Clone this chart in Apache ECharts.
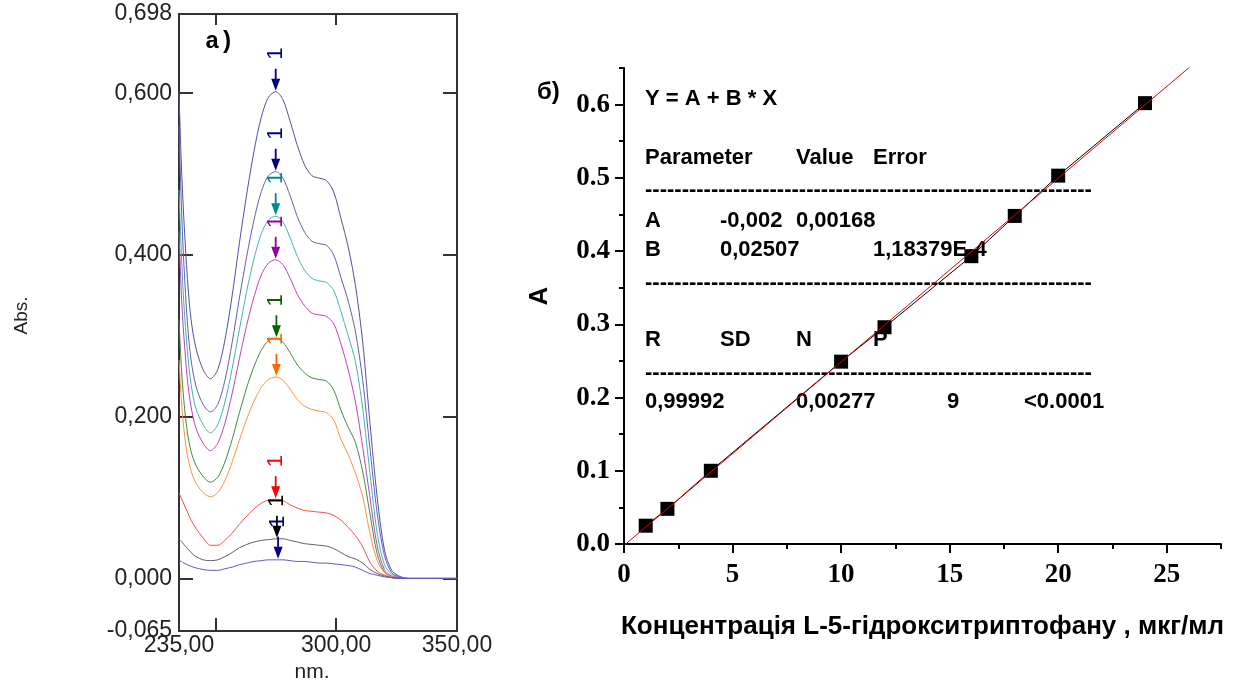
<!DOCTYPE html>
<html><head><meta charset="utf-8">
<script src="https://cdn.jsdelivr.net/npm/echarts@6/dist/echarts.min.js"></script>
<style>html,body{margin:0;padding:0;background:#fff}#c{width:1245px;height:682px}</style>
</head><body><div id="c"></div>
<script>
// ---------- Panel a): UV spectra ----------
const wavelengths = [235, 236, 237, 238.5, 240, 242, 245, 248, 251, 254, 257, 260, 263, 266, 269, 272, 275, 278, 281, 284, 287, 290, 293, 296, 299, 302, 305, 308, 311, 314, 317, 320, 323, 326, 330, 340, 350];
const absC24 = [0.600, 0.510, 0.445, 0.370, 0.320, 0.285, 0.258, 0.247, 0.258, 0.295, 0.350, 0.415, 0.475, 0.528, 0.570, 0.595, 0.602, 0.592, 0.565, 0.535, 0.511, 0.498, 0.495, 0.492, 0.478, 0.445, 0.410, 0.362, 0.292, 0.192, 0.100, 0.035, 0.010, 0.003, 0.000, 0.000, 0.000];
const absC20 = [0.560, 0.460, 0.390, 0.315, 0.270, 0.238, 0.215, 0.206, 0.215, 0.245, 0.292, 0.347, 0.398, 0.443, 0.478, 0.498, 0.503, 0.495, 0.473, 0.447, 0.428, 0.417, 0.414, 0.412, 0.400, 0.372, 0.343, 0.305, 0.245, 0.160, 0.080, 0.028, 0.007, 0.002, 0.000, 0.000, 0.000];
const absC18 = [0.480, 0.400, 0.340, 0.280, 0.240, 0.210, 0.190, 0.180, 0.190, 0.218, 0.260, 0.308, 0.355, 0.395, 0.426, 0.443, 0.448, 0.441, 0.421, 0.398, 0.381, 0.371, 0.368, 0.366, 0.356, 0.330, 0.300, 0.268, 0.210, 0.130, 0.056, 0.017, 0.005, 0.001, 0.000, 0.000, 0.000];
const absC16 = [0.430, 0.350, 0.300, 0.245, 0.212, 0.186, 0.167, 0.158, 0.167, 0.192, 0.229, 0.272, 0.313, 0.348, 0.375, 0.390, 0.394, 0.388, 0.371, 0.351, 0.337, 0.328, 0.326, 0.324, 0.315, 0.290, 0.258, 0.218, 0.162, 0.100, 0.040, 0.011, 0.003, 0.001, 0.000, 0.000, 0.000];
const absC12 = [0.320, 0.260, 0.220, 0.180, 0.157, 0.140, 0.126, 0.119, 0.125, 0.144, 0.172, 0.205, 0.236, 0.262, 0.282, 0.294, 0.297, 0.292, 0.279, 0.264, 0.254, 0.248, 0.246, 0.244, 0.233, 0.208, 0.187, 0.168, 0.132, 0.080, 0.030, 0.008, 0.002, 0.000, 0.000, 0.000, 0.000];
const absC10 = [0.270, 0.220, 0.185, 0.152, 0.133, 0.118, 0.106, 0.101, 0.106, 0.121, 0.144, 0.171, 0.197, 0.219, 0.236, 0.246, 0.249, 0.245, 0.234, 0.221, 0.213, 0.209, 0.207, 0.205, 0.196, 0.172, 0.153, 0.130, 0.101, 0.056, 0.022, 0.007, 0.002, 0.000, 0.000, 0.000, 0.000];
const absC4  = [0.106, 0.099, 0.092, 0.082, 0.072, 0.062, 0.050, 0.041, 0.041, 0.047, 0.056, 0.067, 0.077, 0.086, 0.093, 0.097, 0.098, 0.096, 0.091, 0.087, 0.084, 0.083, 0.082, 0.081, 0.078, 0.072, 0.063, 0.053, 0.039, 0.020, 0.009, 0.004, 0.001, 0.000, 0.000, 0.000, 0.000];
const absC2  = [0.049, 0.046, 0.042, 0.037, 0.032, 0.027, 0.023, 0.022, 0.023, 0.027, 0.032, 0.038, 0.042, 0.045, 0.047, 0.048, 0.049, 0.049, 0.047, 0.045, 0.043, 0.042, 0.041, 0.040, 0.037, 0.032, 0.027, 0.024, 0.019, 0.011, 0.006, 0.003, 0.001, 0.000, 0.000, 0.000, 0.000];
const absC1  = [0.022, 0.021, 0.019, 0.017, 0.015, 0.013, 0.011, 0.010, 0.010, 0.012, 0.014, 0.017, 0.019, 0.021, 0.022, 0.023, 0.023, 0.023, 0.022, 0.021, 0.021, 0.020, 0.019, 0.019, 0.018, 0.017, 0.016, 0.014, 0.010, 0.006, 0.004, 0.002, 0.001, 0.000, 0.000, 0.000, 0.000];
const peakWavelength = 275;
const peakMarkLabel = '1';

const spectraXLabelValues = [235, 300, 350];
const spectraXTickValues = [250, 300];
const spectraYLabelValues = [-0.065, 0, 0.2, 0.4, 0.6, 0.698];
const spectraYTickValues = [0, 0.2, 0.4, 0.6];

// ---------- Panel б): calibration ----------
const concentrations = [1, 2, 4, 10, 12, 16, 18, 20, 24];
const absorbances = [0.025, 0.048, 0.100, 0.249, 0.296, 0.393, 0.448, 0.503, 0.602];
const fitA = -0.002;
const fitB = 0.02507;
const fitXRange = [0, 26.1];
const calibXLabelValues = [0, 5, 10, 15, 20, 25];
const calibXMinorValues = [2.5, 7.5, 12.5, 17.5, 22.5, 27.5];
const calibYLabelValues = [0, 0.1, 0.2, 0.3, 0.4, 0.5, 0.6];
const calibYMinorValues = [0.05, 0.15, 0.25, 0.35, 0.45, 0.55, 0.65];

const tableHeader = ['Y = A + B * X'];
const tableRow1 = ['Parameter', 'Value', 'Error'];
const tableRowA = ['A', '-0,002', '0,00168'];
const tableRowB = ['B', '0,02507', '', '1,18379E-4'];
const tableRow2 = ['R', 'SD', 'N', 'P'];
const tableRow3 = ['0,99992', '', '0,00277', '', '9', '<0.0001'];
const dashRule = '-'.repeat(61);

// ---------- build ----------
const spectraList = [
  {data: absC24, line: '#5050a8', mark: '#000080', x: 275},
  {data: absC20, line: '#6060b4', mark: '#000080', x: 275},
  {data: absC18, line: '#40b4b4', mark: '#008b8b', x: 275},
  {data: absC16, line: '#c040c0', mark: '#9a009a', x: 275},
  {data: absC12, line: '#3c8c3c', mark: '#006400', x: 275.3},
  {data: absC10, line: '#ff9040', mark: '#ff6a00', x: 275.3},
  {data: absC4,  line: '#ff4a4a', mark: '#ff0000', x: 275},
  {data: absC2,  line: '#606060', mark: '#000000', x: 275.5},
  {data: absC1,  line: '#5a5ac8', mark: '#000080', x: 276}
];
const arrowPath = 'path://M4,0L6,0L6,10L10,10L5,22L0,10L4,10Z';
const pIdx = wavelengths.indexOf(peakWavelength);

const spectraSeries = spectraList.map(s => ({
  type: 'line', xAxisIndex: 0, yAxisIndex: 0,
  data: wavelengths.map((w, i) => [w, s.data[i]]),
  smooth: 0.3, showSymbol: false, symbol: 'none', clip: true,
  lineStyle: {color: s.line, width: 1}, itemStyle: {color: s.line},
  markPoint: {
    silent: true, animation: false,
    data: [
      {coord: [s.x, s.data[pIdx]], symbol: arrowPath, symbolSize: [9, 22], symbolOffset: [0, -12],
       itemStyle: {color: s.mark}, label: {show: false}},
      {coord: [s.x, s.data[pIdx]], symbol: 'circle', symbolSize: 1, itemStyle: {color: 'rgba(0,0,0,0)'},
       label: {show: true, position: 'inside', formatter: peakMarkLabel, rotate: 90, offset: [38, 0],
               color: s.mark, fontSize: 22, fontFamily: '"Liberation Sans", Arial, sans-serif'}}
    ]
  }
}));

const fmtComma3 = v => v.toFixed(3).replace('.', ',');
const fmtComma2 = v => v.toFixed(2).replace('.', ',');
const leftFont = '"Liberation Sans", Arial, sans-serif';
const serifFont = '"Liberation Serif", "Times New Roman", serif';
const boxLine = {show: true, onZero: false, lineStyle: {color: '#333', width: 2}};

const option = {
  animation: false,
  backgroundColor: '#fff',
  grid: [
    {left: 179, top: 14, width: 278, height: 617, containLabel: false, outerBoundsMode: 'none'},
    {left: 624, top: 68, width: 597, height: 476, containLabel: false, outerBoundsMode: 'none'}
  ],
  xAxis: [
    {gridIndex: 0, type: 'value', min: 235, max: 350, position: 'bottom',
     axisLine: boxLine,
     axisTick: {show: true, inside: true, length: 13, customValues: spectraXTickValues, lineStyle: {color: '#333', width: 2}},
     axisLabel: {customValues: spectraXLabelValues, formatter: fmtComma2, fontSize: 23, color: '#222', fontFamily: leftFont, margin: 3},
     splitLine: {show: false},
     name: 'nm.', nameLocation: 'middle', nameGap: 31,
     nameTextStyle: {fontSize: 21, color: '#222', fontFamily: leftFont, padding: [0, 12, 0, 0]}},
    {gridIndex: 0, type: 'value', min: 235, max: 350, position: 'top',
     axisLine: boxLine,
     axisTick: {show: true, inside: true, length: 11, customValues: spectraXTickValues, lineStyle: {color: '#333', width: 2}},
     axisLabel: {show: false}, splitLine: {show: false}},
    {gridIndex: 1, type: 'value', min: 0, max: 27.5, position: 'bottom',
     axisLine: {show: true, onZero: false, lineStyle: {color: '#000', width: 2}},
     axisTick: {show: true, length: 9, customValues: calibXLabelValues, lineStyle: {color: '#000', width: 2}},
     axisLabel: {customValues: calibXLabelValues, fontSize: 27, fontWeight: 'bold', fontFamily: serifFont, color: '#000', margin: 18},
     splitLine: {show: false},
     name: 'Концентрація L-5-гідрокситриптофану , мкг/мл', nameLocation: 'middle', nameGap: 70,
     nameTextStyle: {fontSize: 26, fontWeight: 'bold', fontFamily: leftFont, color: '#000'}},
    {gridIndex: 1, type: 'value', min: 0, max: 27.5, position: 'bottom',
     axisLine: {show: false, onZero: false},
     axisTick: {show: true, length: 5, customValues: calibXMinorValues, lineStyle: {color: '#000', width: 2}},
     axisLabel: {show: false}, splitLine: {show: false}}
  ],
  yAxis: [
    {gridIndex: 0, type: 'value', min: -0.065, max: 0.698, position: 'left',
     axisLine: boxLine,
     axisTick: {show: true, inside: true, length: 14, customValues: spectraYTickValues, lineStyle: {color: '#333', width: 2}},
     axisLabel: {customValues: spectraYLabelValues, formatter: fmtComma3, fontSize: 23, color: '#222', fontFamily: leftFont, margin: 7},
     splitLine: {show: false},
     name: 'Abs.', nameLocation: 'middle', nameGap: 148, nameRotate: 90,
     nameTextStyle: {fontSize: 19, color: '#222', fontFamily: leftFont, padding: [0, 0, 0, 14]}},
    {gridIndex: 0, type: 'value', min: -0.065, max: 0.698, position: 'right',
     axisLine: boxLine,
     axisTick: {show: true, inside: true, length: 14, customValues: spectraYTickValues, lineStyle: {color: '#333', width: 2}},
     axisLabel: {show: false}, splitLine: {show: false}},
    {gridIndex: 1, type: 'value', min: 0, max: 0.65, position: 'left',
     axisLine: {show: true, onZero: false, lineStyle: {color: '#000', width: 2}},
     axisTick: {show: true, length: 9, customValues: calibYLabelValues, lineStyle: {color: '#000', width: 2}},
     axisLabel: {customValues: calibYLabelValues, formatter: v => v.toFixed(1), fontSize: 27, fontWeight: 'bold', fontFamily: serifFont, color: '#000', margin: 14},
     splitLine: {show: false},
     name: 'A', nameLocation: 'middle', nameGap: 71, nameRotate: 90,
     nameTextStyle: {fontSize: 26, fontWeight: 'bold', fontFamily: leftFont, color: '#000', padding: [0, 0, 0, 20]}},
    {gridIndex: 1, type: 'value', min: 0, max: 0.65, position: 'left',
     axisLine: {show: false, onZero: false},
     axisTick: {show: true, length: 5, customValues: calibYMinorValues, lineStyle: {color: '#000', width: 2}},
     axisLabel: {show: false}, splitLine: {show: false}}
  ],
  series: spectraSeries.concat([
    {type: 'line', xAxisIndex: 2, yAxisIndex: 2, z: 3,
     data: concentrations.map((c, i) => [c, absorbances[i]]),
     symbol: 'rect', symbolSize: 14, showSymbol: true,
     lineStyle: {color: '#000', width: 1}, itemStyle: {color: '#000'}},
    {type: 'line', xAxisIndex: 2, yAxisIndex: 2, z: 4, clip: true,
     data: fitXRange.map(x => [x, fitA + fitB * x]),
     symbol: 'none', lineStyle: {color: '#e00000', width: 1}}
  ]),
  graphic: []
};

const tf = 'bold 22px "Liberation Sans", Arial, sans-serif';
function txt(x, y, text, font) {
  return {type: 'text', x: x, y: y, z: 0, silent: true,
          style: {text: text, font: font || tf, fill: '#000', verticalAlign: 'middle', align: 'left'}};
}
const cols = [645, 720, 796, 873, 947, 1024];
const g = [];
g.push(txt(205, 42, 'a)', 'bold 24px "Liberation Mono", "DejaVu Sans Mono", monospace'));
g.push(txt(537, 92, 'б)', 'bold 24px "Liberation Sans", Arial, sans-serif'));
g.push(txt(cols[0], 99, tableHeader[0]));
g.push(txt(cols[0], 158, tableRow1[0]));
g.push(txt(cols[2], 158, tableRow1[1]));
g.push(txt(cols[3], 158, tableRow1[2]));
g.push(txt(cols[0], 190, dashRule));
g.push(txt(cols[0], 221, tableRowA[0]));
g.push(txt(cols[1], 221, tableRowA[1]));
g.push(txt(cols[2], 221, tableRowA[2]));
g.push(txt(cols[0], 250, tableRowB[0]));
g.push(txt(cols[1], 250, tableRowB[1]));
g.push(txt(cols[3], 250, tableRowB[3]));
g.push(txt(cols[0], 283, dashRule));
g.push(txt(cols[0], 340, tableRow2[0]));
g.push(txt(cols[1], 340, tableRow2[1]));
g.push(txt(cols[2], 340, tableRow2[2]));
g.push(txt(cols[3], 340, tableRow2[3]));
g.push(txt(cols[0], 373, dashRule));
g.push(txt(cols[0], 402, tableRow3[0]));
g.push(txt(cols[2], 402, tableRow3[2]));
g.push(txt(cols[4], 402, tableRow3[4]));
g.push(txt(cols[5], 402, tableRow3[5]));
option.graphic = g;

const chart = echarts.init(document.getElementById('c'), null, {renderer: 'canvas'});
chart.setOption(option);
</script>
</body></html>
